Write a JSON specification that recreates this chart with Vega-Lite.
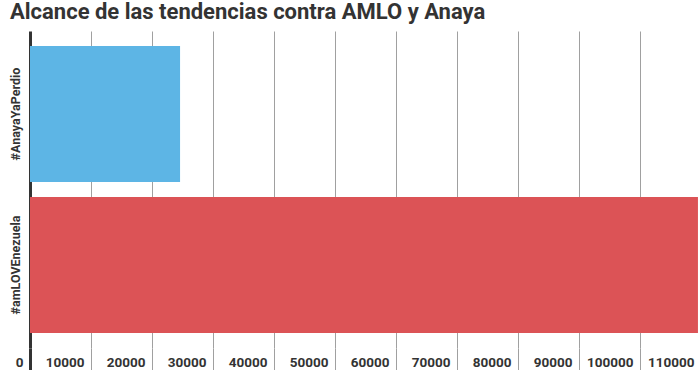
{
  "$schema": "https://vega.github.io/schema/vega-lite/v6.json",
  "autosize": "none",
  "width": 671,
  "height": 317,
  "padding": {"left": 30, "top": 31, "right": 0, "bottom": 22},
  "background": "white",
  "title": {
    "text": "Alcance de las tendencias contra AMLO y Anaya",
    "anchor": "start",
    "frame": "group",
    "dx": -20,
    "offset": 7,
    "font": "Roboto",
    "fontSize": 22,
    "fontWeight": "bold",
    "color": "#333333"
  },
  "data": {
    "values": [
      {"tendencia": "#AnayaYaPerdio", "alcance": 24600},
      {"tendencia": "#amLOVEnezuela", "alcance": 109500}
    ]
  },
  "mark": {"type": "bar"},
  "encoding": {
    "y": {
      "field": "tendencia",
      "type": "nominal",
      "sort": ["#AnayaYaPerdio", "#amLOVEnezuela"],
      "scale": {"paddingInner": 0.1, "paddingOuter": 0.1},
      "axis": {
        "title": null,
        "ticks": false,
        "domain": true,
        "domainColor": "#333333",
        "domainWidth": 3,
        "labelAngle": 270,
        "labelAlign": "center",
        "labelBaseline": "middle",
        "labelPadding": 15,
        "labelFont": "Roboto",
        "labelFontSize": 12.5,
        "labelFontWeight": "bold",
        "labelColor": "#333333"
      }
    },
    "x": {
      "field": "alcance",
      "type": "quantitative",
      "scale": {"domain": [0, 110000], "nice": false},
      "axis": {
        "title": null,
        "values": [0, 10000, 20000, 30000, 40000, 50000, 60000, 70000, 80000, 90000, 100000, 110000],
        "format": "d",
        "domain": false,
        "grid": true,
        "gridColor": {"condition": {"test": "datum.value === 0", "value": "#333333"}, "value": "#a0a0a0"},
        "gridWidth": {"condition": {"test": "datum.value === 0", "value": 0}, "value": 1},
        "ticks": true,
        "tickSize": 22,
        "tickColor": {"condition": {"test": "datum.value === 0", "value": "#333333"}, "value": "#a0a0a0"},
        "tickWidth": {"condition": {"test": "datum.value === 0", "value": 3}, "value": 1},
        "labelAlign": "right",
        "labelBaseline": "middle",
        "labelPadding": -8,
        "labelOffset": -7,
        "labelFont": "Roboto",
        "labelFontSize": 13.5,
        "labelFontWeight": "bold",
        "labelColor": "#333333",
        "labelOverlap": false,
        "labelFlush": false
      }
    },
    "color": {
      "field": "tendencia",
      "type": "nominal",
      "scale": {"domain": ["#AnayaYaPerdio", "#amLOVEnezuela"], "range": ["#5DB5E5", "#DC5356"]},
      "legend": null
    }
  },
  "config": {"view": {"stroke": null}}
}
